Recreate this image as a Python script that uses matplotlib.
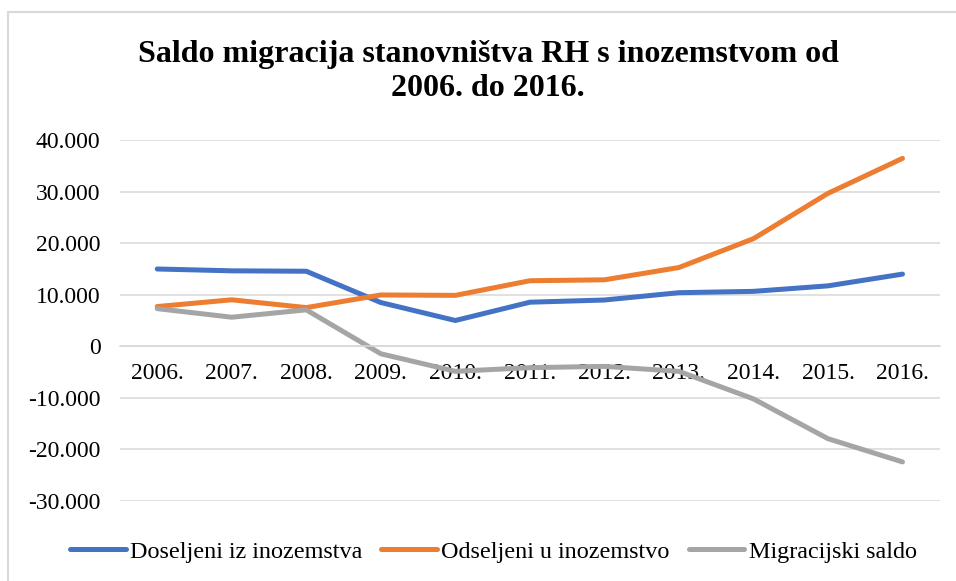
import matplotlib.pyplot as plt
from matplotlib.patches import Rectangle
from matplotlib.ticker import FuncFormatter

years = ["2006.", "2007.", "2008.", "2009.", "2010.", "2011.",
         "2012.", "2013.", "2014.", "2015.", "2016."]
doseljeni = [14978, 14622, 14541, 8468, 4985, 8534, 8959, 10378, 10638, 11706, 13985]
odseljeni = [7692, 9002, 7488, 9940, 9860, 12699, 12877, 15262, 20858, 29651, 36436]
saldo = [7286, 5620, 7053, -1472, -4875, -4165, -3918, -4884, -10220, -17945, -22451]

plt.rcParams["font.family"] = ["Liberation Serif", "DejaVu Serif"]
plt.rcParams["axes.unicode_minus"] = False

fig = plt.figure(figsize=(9.56, 5.81), dpi=100)
ax = fig.add_axes([0.1255, 0.138, 0.8575, 0.621])

# chart area border (Excel style)
fig.patches.append(Rectangle((8 / 956, -0.1), 1.2, 1.079, transform=fig.transFigure,
                             fill=False, edgecolor="#d9d9d9", linewidth=1.5))

x = list(range(len(years)))
ax.plot(x, doseljeni, color="#4472c4", linewidth=3.6, solid_capstyle="round",
        label="Doseljeni iz inozemstva")
ax.plot(x, odseljeni, color="#ed7d31", linewidth=3.6, solid_capstyle="round",
        label="Odseljeni u inozemstvo")
ax.plot(x, saldo, color="#a5a5a5", linewidth=3.6, solid_capstyle="round",
        label="Migracijski saldo")

ax.set_xlim(-0.5, len(years) - 0.5)
ax.set_ylim(-30000, 40000)
ax.set_yticks(range(-30000, 40001, 10000))
ax.yaxis.set_major_formatter(FuncFormatter(lambda v, p: f"{int(v):,}".replace(",", ".")))
ax.set_xticks(x)
ax.set_xticklabels(years)

ax.grid(axis="y", color="#d9d9d9", linewidth=1.1)
ax.set_axisbelow(True)
for s in ["top", "right", "left"]:
    ax.spines[s].set_visible(False)
ax.spines["bottom"].set_position(("data", 0))
ax.spines["bottom"].set_color("#d9d9d9")
ax.spines["bottom"].set_linewidth(1.1)
ax.tick_params(axis="both", length=0, labelsize=17)
ax.tick_params(axis="x", pad=12)
ax.tick_params(axis="y", pad=14)

fig.text(0.5105, 0.932, "Saldo migracija stanovništva RH s inozemstvom od\n2006. do 2016.",
         ha="center", va="top", fontsize=23, fontweight="bold", linespacing=1.25,
         multialignment="center")

fig.legend(loc="center", bbox_to_anchor=(0.516, 0.05), ncol=3, frameon=False,
           fontsize=17.4, handlelength=2.3, handletextpad=0.17, columnspacing=0.8)

fig.savefig("out.png", dpi=100)
